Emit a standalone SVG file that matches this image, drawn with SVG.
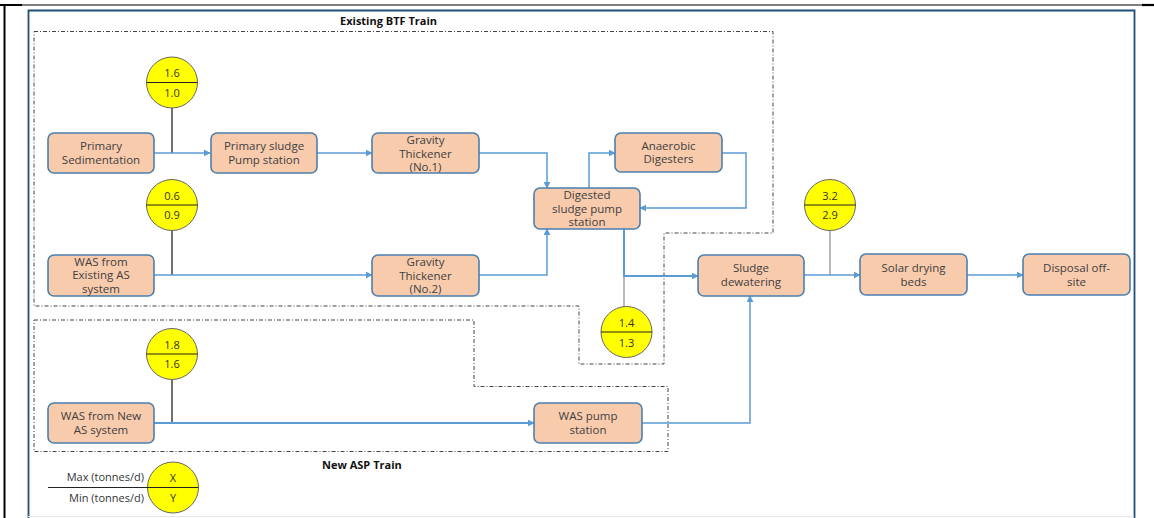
<svg xmlns="http://www.w3.org/2000/svg" width="1154" height="518" viewBox="0 0 1154 518">
  <style>
    .node rect { fill: #f8cbad; stroke: #4a7fb0; stroke-width: 1.6; }
    .node text { font-family: "Open Sans", "Liberation Sans", sans-serif; font-size: 11.5px; fill: #404040; text-anchor: middle; }
    .gauge circle { fill: #ffff00; stroke: #666666; stroke-width: 1; }
    .gauge line { stroke: #222222; stroke-width: 1.2; }
    .gauge text { font-family: "Open Sans", "Liberation Sans", sans-serif; font-size: 11px; fill: #333333; text-anchor: middle; }
    .flow { fill: none; stroke: #5b9bd5; stroke-width: 1.5; marker-end: url(#arr); }
    .flow.thick { stroke-width: 2; }
    .stem { stroke: #111111; stroke-width: 1.2; }
    .stem.grey { stroke: #8a8a8a; }
    .zone { fill: none; stroke: #444444; stroke-width: 1; stroke-dasharray: 4 2 1 2; }
    .title { font-family: "Open Sans", "Liberation Sans", sans-serif; font-size: 11px; font-weight: bold; fill: #111111; }
  </style>
  <defs>
    <marker id="arr" viewBox="0 0 10 10" refX="9" refY="5" markerWidth="7" markerHeight="7" markerUnits="userSpaceOnUse" orient="auto">
      <path d="M0,0 L10,5 L0,10 Z" fill="#5b9bd5"/>
    </marker>
  </defs>

  <rect width="1154" height="518" fill="#ffffff"/>

  <!-- page frame -->
  <g id="frame">
    <line x1="0" y1="5" x2="1142" y2="5" stroke="#000" stroke-width="1.2"/>
    <line x1="0" y1="5" x2="22" y2="5" stroke="#000" stroke-width="2"/>
    <line x1="1142" y1="5" x2="1154" y2="5" stroke="#000" stroke-width="2.2"/>
    <line x1="4.5" y1="5" x2="4.5" y2="518" stroke="#000" stroke-width="2"/>
    <path d="M28.5,518 V10.5 H1134.5 V518" fill="none" stroke="#1f4e79" stroke-width="1.8"/>
    <line x1="28" y1="516.5" x2="1134" y2="516.5" stroke="#e6e6e6" stroke-width="1"/>
  </g>

  <!-- train boundaries -->
  <g id="zones">
    <path class="zone" d="M34,31.5 H773 V233 H664 V364 H579 V306 H34 Z"/>
    <path class="zone" d="M34,320 H474 V386.5 H668 V451.5 H34 Z"/>
    <text class="title" x="340" y="25">Existing BTF Train</text>
    <text class="title" x="322" y="469">New ASP Train</text>
  </g>

  <!-- connectors -->
  <g id="connectors">
    <line class="stem" x1="172" y1="108" x2="172" y2="153"/>
    <line class="stem" x1="172" y1="231" x2="172" y2="275"/>
    <line class="stem" x1="172" y1="380" x2="172" y2="423"/>
    <line class="stem grey" x1="624" y1="276" x2="624" y2="307"/>
    <line class="stem grey" x1="830" y1="231" x2="830" y2="275"/>

    <path class="flow" d="M154,153 H210"/>
    <path class="flow" d="M317,153 H372"/>
    <path class="flow" d="M479,153 H547 V188"/>
    <path class="flow" d="M589,188 V153 H615"/>
    <path class="flow" d="M722,153 H746 V208 H640"/>
    <path class="flow" d="M154,275 H372"/>
    <path class="flow" d="M479,275 H547 V229"/>
    <path class="flow thick" d="M624,229 V276 H698"/>
    <path class="flow thick" d="M154,423 H534"/>
    <path class="flow" d="M642,423 H750 V296"/>
    <path class="flow" d="M804,275 H860"/>
    <path class="flow" d="M967,275 H1023"/>
  </g>

  <!-- process units -->
  <g id="primary-sedimentation" class="node">
    <rect x="48" y="133" width="106" height="40" rx="6"/>
    <text x="101" y="150">Primary</text>
    <text x="101" y="164">Sedimentation</text>
  </g>
  <g id="primary-sludge-pump" class="node">
    <rect x="211" y="133" width="106" height="40" rx="6"/>
    <text x="264" y="150">Primary sludge</text>
    <text x="264" y="164">Pump station</text>
  </g>
  <g id="gravity-thickener-1" class="node">
    <rect x="372" y="133" width="107" height="40" rx="6"/>
    <text x="425.5" y="144">Gravity</text>
    <text x="425.5" y="157.5">Thickener</text>
    <text x="425.5" y="171">(No.1)</text>
  </g>
  <g id="anaerobic-digesters" class="node">
    <rect x="615" y="133" width="107" height="39" rx="6"/>
    <text x="668.5" y="149.5">Anaerobic</text>
    <text x="668.5" y="163">Digesters</text>
  </g>
  <g id="digested-sludge-pump" class="node">
    <rect x="534" y="188" width="106" height="41" rx="6"/>
    <text x="587" y="199">Digested</text>
    <text x="587" y="212.5">sludge pump</text>
    <text x="587" y="226">station</text>
  </g>
  <g id="was-existing" class="node">
    <rect x="48" y="255" width="106" height="41" rx="6"/>
    <text x="101" y="265.5">WAS from</text>
    <text x="101" y="279">Existing AS</text>
    <text x="101" y="292.5">system</text>
  </g>
  <g id="gravity-thickener-2" class="node">
    <rect x="372" y="255" width="107" height="41" rx="6"/>
    <text x="425.5" y="266">Gravity</text>
    <text x="425.5" y="279.5">Thickener</text>
    <text x="425.5" y="293">(No.2)</text>
  </g>
  <g id="sludge-dewatering" class="node">
    <rect x="698" y="255" width="106" height="41" rx="6"/>
    <text x="751" y="272">Sludge</text>
    <text x="751" y="286">dewatering</text>
  </g>
  <g id="solar-drying-beds" class="node">
    <rect x="860" y="254" width="107" height="41" rx="6"/>
    <text x="913.5" y="271.5">Solar drying</text>
    <text x="913.5" y="285.5">beds</text>
  </g>
  <g id="disposal-off-site" class="node">
    <rect x="1023" y="254" width="107" height="41" rx="6"/>
    <text x="1076.5" y="271.5">Disposal off-</text>
    <text x="1076.5" y="285.5">site</text>
  </g>
  <g id="was-new" class="node">
    <rect x="48" y="403" width="106" height="40" rx="6"/>
    <text x="101" y="420">WAS from New</text>
    <text x="101" y="434">AS system</text>
  </g>
  <g id="was-pump-station" class="node">
    <rect x="534" y="403" width="108" height="40" rx="6"/>
    <text x="588" y="420">WAS pump</text>
    <text x="588" y="434">station</text>
  </g>

  <!-- solids load gauges (max over min) -->
  <g id="gauge-primary" class="gauge">
    <circle cx="172" cy="82.5" r="25.5"/>
    <line x1="146.5" y1="82.5" x2="197.5" y2="82.5"/>
    <text x="172" y="77">1.6</text>
    <text x="172" y="96.5">1.0</text>
  </g>
  <g id="gauge-was-existing" class="gauge">
    <circle cx="172" cy="205" r="25.5"/>
    <line x1="146.5" y1="205" x2="197.5" y2="205"/>
    <text x="172" y="199.5">0.6</text>
    <text x="172" y="219">0.9</text>
  </g>
  <g id="gauge-digested" class="gauge">
    <circle cx="626.5" cy="332" r="25.5"/>
    <line x1="601" y1="332" x2="652" y2="332"/>
    <text x="626.5" y="327">1.4</text>
    <text x="626.5" y="346.5">1.3</text>
  </g>
  <g id="gauge-dewatered" class="gauge">
    <circle cx="830" cy="205" r="25.5"/>
    <line x1="804.5" y1="205" x2="855.5" y2="205"/>
    <text x="830" y="199.5">3.2</text>
    <text x="830" y="219">2.9</text>
  </g>
  <g id="gauge-was-new" class="gauge">
    <circle cx="172" cy="354" r="25.5"/>
    <line x1="146.5" y1="354" x2="197.5" y2="354"/>
    <text x="172" y="348.5">1.8</text>
    <text x="172" y="368">1.6</text>
  </g>

  <!-- legend -->
  <g id="legend" class="gauge">
    <circle cx="173" cy="487.5" r="25.5"/>
    <line x1="48" y1="487.5" x2="198.5" y2="487.5"/>
    <text x="173" y="481.5">X</text>
    <text x="173" y="502">Y</text>
    <text x="144" y="480.5" style="text-anchor:end">Max (tonnes/d)</text>
    <text x="144" y="501.5" style="text-anchor:end">Min (tonnes/d)</text>
  </g>
</svg>
